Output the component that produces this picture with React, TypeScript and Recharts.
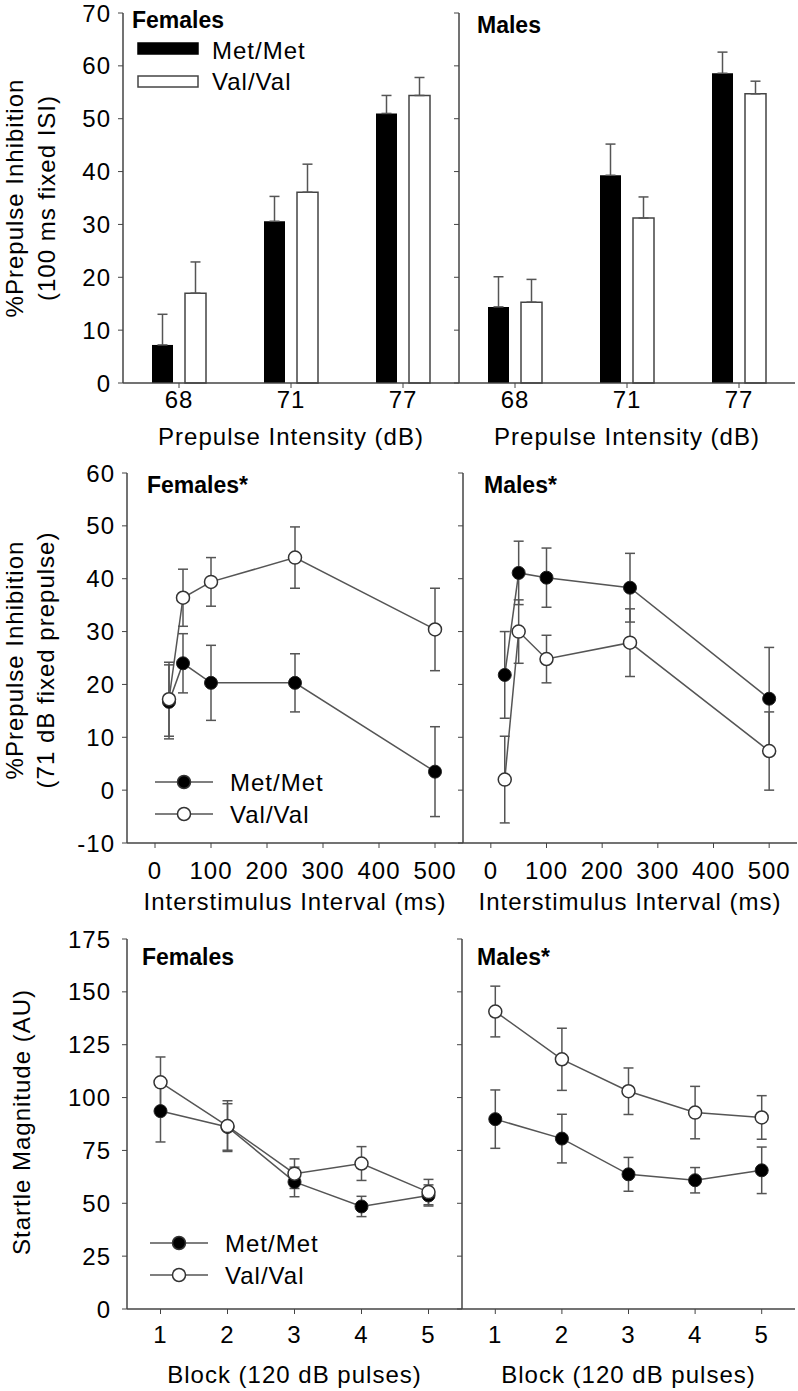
import { BarChart, Bar, LineChart, Line, XAxis, YAxis, ErrorBar, Label, Legend } from "recharts";

const FONT = "'Liberation Sans', Arial, sans-serif";
const AXIS = "#444";
const INK = "#000";
const LINE = "#555";

// top row: PPI by prepulse intensity (100 ms ISI)
const intensities = ["68", "71", "77"];
const femMetPPI = [7.2, 30.6, 51.0];
const femMetPPIErr = [5.8, 4.7, 3.4];
const femValPPI = [17.0, 36.1, 54.4];
const femValPPIErr = [5.9, 5.3, 3.4];
const maleMetPPI = [14.4, 39.3, 58.6];
const maleMetPPIErr = [5.7, 5.9, 4.0];
const maleValPPI = [15.3, 31.2, 54.7];
const maleValPPIErr = [4.3, 4.0, 2.4];

// middle row: PPI by interstimulus interval (71 dB prepulse)
const isiMs = [25, 50, 100, 250, 500];
const femMetISI = [16.7, 24.0, 20.3, 20.3, 3.5];
const femMetISIErr = [7.0, 5.6, 7.1, 5.5, 8.5];
const femValISI = [17.2, 36.4, 39.4, 44.0, 30.4];
const femValISIErr = [7.0, 5.4, 4.6, 5.8, 7.8];
const maleMetISI = [21.8, 41.1, 40.2, 38.3, 17.3];
const maleMetISIErr = [8.2, 6.0, 5.6, 6.5, 9.7];
const maleValISI = [2.0, 30.0, 24.8, 27.9, 7.4];
const maleValISIErr = [8.2, 6.0, 4.5, 6.4, 7.4];

// bottom row: startle magnitude by block
const blocks = [1, 2, 3, 4, 5];
const femMetStartle = [93.6, 86.1, 60.1, 48.5, 53.7];
const femMetStartleErr = [14.6, 11.0, 7.0, 4.8, 5.0];
const femValStartle = [107.2, 86.5, 64.0, 68.8, 55.3];
const femValStartleErr = [12.0, 12.0, 7.0, 8.0, 6.0];
const maleMetStartle = [89.8, 80.6, 63.7, 60.9, 65.6];
const maleMetStartleErr = [13.8, 11.5, 8.0, 6.0, 11.0];
const maleValStartle = [140.7, 118.1, 103.0, 92.9, 90.6];
const maleValStartleErr = [12.0, 14.7, 11.0, 12.4, 10.3];

const ppiTicks = [0, 10, 20, 30, 40, 50, 60, 70];
const isiTicks = [0, 100, 200, 300, 400, 500];
const isiPPITicks = [-10, 0, 10, 20, 30, 40, 50, 60];
const startleTicks = [0, 25, 50, 75, 100, 125, 150, 175];

const markerFill: Record<string, string> = { "Met/Met": "#000", "Val/Val": "#fff" };

function barRows(met: number[], metErr: number[], val: number[], valErr: number[]) {
  return intensities.map((x, i) => ({
    x,
    met: met[i],
    metErr: [0, metErr[i]],
    val: val[i],
    valErr: [0, valErr[i]],
  }));
}

function lineRows(xs: number[], met: number[], metErr: number[], val: number[], valErr: number[]) {
  return xs.map((x, i) => ({ x, met: met[i], metErr: metErr[i], val: val[i], valErr: valErr[i] }));
}

const tickStyle = { fill: INK, fontSize: 24, letterSpacing: 1 };

function BarLegend({ payload }: any) {
  return (
    <svg width={220} height={64} style={{ fontFamily: FONT, overflow: "visible" }}>
      {(payload || []).map((entry: any, i: number) => (
        <g key={entry.value}>
          <rect
            x={1}
            y={7 + i * 33}
            width={60}
            height={11}
            fill={entry.color}
            stroke={i === 0 ? "#000" : AXIS}
            strokeWidth={1.5}
          />
          <text x={75} y={23 + i * 31} fontSize={24} letterSpacing={1} fill={INK}>
            {entry.value}
          </text>
        </g>
      ))}
    </svg>
  );
}

function LineLegend({ payload }: any) {
  return (
    <svg width={220} height={68} style={{ fontFamily: FONT, overflow: "visible" }}>
      {(payload || []).map((entry: any, i: number) => (
        <g key={entry.value}>
          <line x1={5} x2={63} y1={16 + i * 32} y2={16 + i * 32} stroke={LINE} strokeWidth={1.5} />
          <circle cx={34} cy={16 + i * 32} r={6.5} fill={markerFill[entry.value]} stroke="#333" strokeWidth={1.5} />
          <text x={80} y={24.5 + i * 32} fontSize={24} letterSpacing={1} fill={INK}>
            {entry.value}
          </text>
        </g>
      ))}
    </svg>
  );
}

function YTitle({ lines, x, y }: { lines: string[]; x: number[]; y: number }) {
  return (
    <>
      {lines.map((t, i) => (
        <text
          key={t}
          x={x[i]}
          y={y}
          transform={`rotate(-90 ${x[i]} ${y})`}
          textAnchor="middle"
          fontSize={24}
          letterSpacing={1}
          fill={INK}
        >
          {t}
        </text>
      ))}
    </>
  );
}

function PanelTitle({ x, y, text }: { x: number; y: number; text: string }) {
  return (
    <text x={x} y={y} fontSize={23} fontWeight={700} fill="#000">
      {text}
    </text>
  );
}

function BarPanel(props: {
  rows: any[];
  width: number;
  yWidth: number;
  right: number;
  title: string;
  titleX: number;
  titleY: number;
  first: boolean;
}) {
  const { rows, width, yWidth, right, title, titleX, titleY, first } = props;
  return (
    <BarChart
      width={width}
      height={460}
      data={rows}
      margin={{ top: 13, right, bottom: 0, left: 0 }}
      barGap={12}
    >
      <XAxis
        dataKey="x"
        height={77}
        tickSize={5}
        tickMargin={3}
        tick={tickStyle}
        stroke={AXIS}
        axisLine={{ stroke: AXIS, strokeWidth: 1.5 }}
        interval={0}
      >
        <Label value="Prepulse Intensity (dB)" position="insideBottom" offset={15} fill={INK} fontSize={24} letterSpacing={1} />
      </XAxis>
      <YAxis
        type="number"
        domain={[0, 70]}
        ticks={ppiTicks}
        width={yWidth}
        tickSize={5}
        tickMargin={7}
        tick={tickStyle}
        tickFormatter={first ? undefined : () => ""}
        stroke={AXIS}
        axisLine={{ stroke: AXIS, strokeWidth: 1.5 }}
        interval={0}
      />
      {first ? (
        <Legend
          layout="horizontal"
          verticalAlign="middle"
          align="center"
          content={<BarLegend />}
          wrapperStyle={{ left: 137, top: 36, width: 220, height: 64 }}
        />
      ) : null}
      <Bar dataKey="met" name="Met/Met" fill="#000" barSize={21} isAnimationActive={false}>
        <ErrorBar dataKey="metErr" direction="y" width={5} stroke={LINE} strokeWidth={1.5} />
      </Bar>
      <Bar dataKey="val" name="Val/Val" fill="#fff" stroke={AXIS} strokeWidth={1.5} barSize={21} isAnimationActive={false}>
        <ErrorBar dataKey="valErr" direction="y" width={5} stroke={LINE} strokeWidth={1.5} />
      </Bar>
      {first ? <YTitle lines={["%Prepulse Inhibition", "(100 ms fixed ISI)"]} x={[23, 55]} y={198} /> : null}
      <PanelTitle x={titleX} y={titleY} text={title} />
    </BarChart>
  );
}

function LinePanel(props: {
  rows: any[];
  width: number;
  height: number;
  yWidth: number;
  right: number;
  xDomain: number[];
  xTicks: number[];
  yDomain: number[];
  yTicks: number[];
  xTitle: string;
  xTitleOffset: number;
  xTickMargin: number;
  yTickMargin: number;
  title: string;
  titleX: number;
  titleY: number;
  first: boolean;
  yTitle: string[];
  yTitleX: number[];
  yTitleY: number;
  legendTop: number;
  legendLeft: number;
}) {
  const p = props;
  return (
    <LineChart width={p.width} height={p.height} data={p.rows} margin={{ top: 13, right: p.right, bottom: 0, left: 0 }}>
      <XAxis
        dataKey="x"
        type="number"
        domain={p.xDomain}
        ticks={p.xTicks}
        height={p.height - 13 - 370}
        tickSize={5}
        tickMargin={p.xTickMargin}
        tick={tickStyle}
        stroke={AXIS}
        axisLine={{ stroke: AXIS, strokeWidth: 1.5 }}
        interval={0}
      >
        <Label value={p.xTitle} position="insideBottom" offset={p.xTitleOffset} fill={INK} fontSize={24} letterSpacing={1} />
      </XAxis>
      <YAxis
        type="number"
        domain={p.yDomain}
        ticks={p.yTicks}
        width={p.yWidth}
        tickSize={5}
        tickMargin={p.yTickMargin}
        tick={tickStyle}
        tickFormatter={p.first ? undefined : () => ""}
        stroke={AXIS}
        axisLine={{ stroke: AXIS, strokeWidth: 1.5 }}
        interval={0}
      />
      {p.first ? (
        <Legend
          layout="horizontal"
          verticalAlign="middle"
          align="center"
          content={<LineLegend />}
          wrapperStyle={{ left: p.legendLeft, top: p.legendTop, width: 220, height: 68 }}
        />
      ) : null}
      <Line
        dataKey="met"
        name="Met/Met"
        type="linear"
        stroke={LINE}
        strokeWidth={1.5}
        dot={{ r: 6.5, fill: "#000", stroke: "#222", strokeWidth: 1 }}
        activeDot={false}
        isAnimationActive={false}
      >
        <ErrorBar dataKey="metErr" direction="y" width={5} stroke={LINE} strokeWidth={1.5} />
      </Line>
      <Line
        dataKey="val"
        name="Val/Val"
        type="linear"
        stroke={LINE}
        strokeWidth={1.5}
        dot={{ r: 6.5, fill: "#fff", stroke: "#333", strokeWidth: 1.5 }}
        activeDot={false}
        isAnimationActive={false}
      >
        <ErrorBar dataKey="valErr" direction="y" width={5} stroke={LINE} strokeWidth={1.5} />
      </Line>
      {p.first ? <YTitle lines={p.yTitle} x={p.yTitleX} y={p.yTitleY} /> : null}
      <PanelTitle x={p.titleX} y={p.titleY} text={p.title} />
    </LineChart>
  );
}

export default function App() {
  const at = (left: number, top: number) => ({ position: "absolute" as const, left, top });
  return (
    <div style={{ position: "relative", width: 798, height: 1391, background: "#fff", fontFamily: FONT, overflow: "hidden" }}>
      <style>{"body{margin:0}"}</style>

      <div style={at(0, 0)}>
        <BarPanel rows={barRows(femMetPPI, femMetPPIErr, femValPPI, femValPPIErr)} width={459} yWidth={123} right={0} title="Females" titleX={132} titleY={28} first />
      </div>
      <div style={at(439, 0)}>
        <BarPanel rows={barRows(maleMetPPI, maleMetPPIErr, maleValPPI, maleValPPIErr)} width={359} yWidth={20} right={3} title="Males" titleX={38} titleY={33} first={false} />
      </div>

      <div style={at(0, 460)}>
        <LinePanel
          rows={lineRows(isiMs, femMetISI, femMetISIErr, femValISI, femValISIErr)}
          width={463} height={466} yWidth={127} right={0}
          xDomain={[-50, 550]} xTicks={isiTicks} yDomain={[-10, 60]} yTicks={isiPPITicks}
          xTitle="Interstimulus Interval (ms)" xTitleOffset={16} xTickMargin={14} yTickMargin={7}
          title="Females*" titleX={147} titleY={33} first
          yTitle={["%Prepulse Inhibition", "(71 dB fixed prepulse)"]} yTitleX={[23, 54]} yTitleY={200}
          legendLeft={150} legendTop={306}
        />
      </div>
      <div style={at(443, 460)}>
        <LinePanel
          rows={lineRows(isiMs, maleMetISI, maleMetISIErr, maleValISI, maleValISIErr)}
          width={355} height={466} yWidth={20} right={1}
          xDomain={[-50, 550]} xTicks={isiTicks} yDomain={[-10, 60]} yTicks={isiPPITicks}
          xTitle="Interstimulus Interval (ms)" xTitleOffset={16} xTickMargin={14} yTickMargin={7}
          title="Males*" titleX={41} titleY={33} first={false}
          yTitle={[]} yTitleX={[]} yTitleY={0}
          legendLeft={0} legendTop={0}
        />
      </div>

      <div style={at(0, 926)}>
        <LinePanel
          rows={lineRows(blocks, femMetStartle, femMetStartleErr, femValStartle, femValStartleErr)}
          width={462} height={465} yWidth={127} right={0}
          xDomain={[0.5, 5.5]} xTicks={blocks} yDomain={[0, 175]} yTicks={startleTicks}
          xTitle="Block (120 dB pulses)" xTitleOffset={8} xTickMargin={12} yTickMargin={11}
          title="Females" titleX={142} titleY={39} first
          yTitle={["Startle Magnitude (AU)"]} yTitleX={[30]} yTitleY={196}
          legendLeft={145} legendTop={301}
        />
      </div>
      <div style={at(442, 926)}>
        <LinePanel
          rows={lineRows(blocks, maleMetStartle, maleMetStartleErr, maleValStartle, maleValStartleErr)}
          width={356} height={465} yWidth={20} right={3}
          xDomain={[0.5, 5.5]} xTicks={blocks} yDomain={[0, 175]} yTicks={startleTicks}
          xTitle="Block (120 dB pulses)" xTitleOffset={8} xTickMargin={12} yTickMargin={11}
          title="Males*" titleX={35} titleY={39} first={false}
          yTitle={[]} yTitleX={[]} yTitleY={0}
          legendLeft={0} legendTop={0}
        />
      </div>
    </div>
  );
}
